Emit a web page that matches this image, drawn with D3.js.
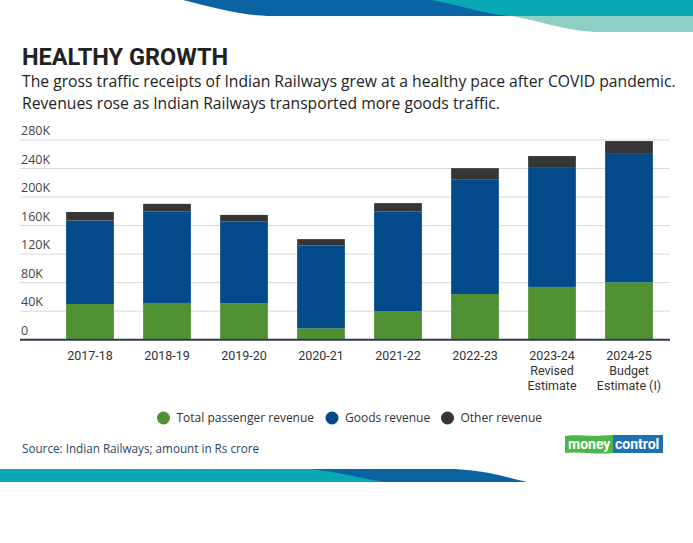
<!DOCTYPE html>
<html>
<head>
<meta charset="utf-8">
<script src="https://cdn.jsdelivr.net/npm/d3@7"></script>
<style>
  body { margin: 0; background: #fff; }
</style>
</head>
<body>
<svg id="chart"></svg>
<script>
// values in Rs '000 crore
const years = ["2017-18", "2018-19", "2019-20", "2020-21", "2021-22", "2022-23", "2023-24", "2024-25"];
const yearNotes = [[], [], [], [], [], [], ["Revised", "Estimate"], ["Budget", "Estimate (I)"]];
const passenger = [50, 51.5, 51, 16, 40, 64, 74, 80.5];
const goods = [117, 128, 114.5, 116, 140, 161, 168, 180];
const other = [12, 11, 9.5, 9, 11.5, 15.5, 15.5, 18];
const yTicks = [0, 40, 80, 120, 160, 200, 240, 280];
const keys = ["passenger", "goods", "other"];
const keyNames = ["Total passenger revenue", "Goods revenue", "Other revenue"];

const W = 693, H = 543;
const svg = d3.select("#chart").attr("width", W).attr("height", H)
    .attr("font-family", "'Open Sans', sans-serif");

const data = years.map((y, i) => ({ year: y, passenger: passenger[i], goods: goods[i], other: other[i] }));

// decorative bands top and bottom
svg.append("path").attr("fill", "#0a64a3")
    .attr("d", "M183,0 C215,8 240,15 268,16 L520,16 L520,0 Z");
svg.append("path").attr("fill", "#8ccfc4")
    .attr("d", "M500,14 C540,20 560,30 595,32 L693,32 L693,14 Z");
svg.append("path").attr("fill", "#0aa8b4")
    .attr("d", "M432,0 C470,8 490,15 510,16 L693,16 L693,0 Z");

svg.append("path").attr("fill", "#0a64a3")
    .attr("d", "M0,469 L455,469 C490,471 505,477 527,482 L0,482 Z");
svg.append("path").attr("fill", "#0aa8b4")
    .attr("d", "M0,469 L310,469 C340,472 360,478 384,482 L0,482 Z");

// title
svg.append("text").attr("x", 22).attr("y", 65)
    .attr("font-family", "Roboto").attr("font-weight", "bold")
    .attr("font-size", 23.5).attr("fill", "#222")
    .text("HEALTHY GROWTH");
svg.append("text").attr("x", 22).attr("y", 87)
    .attr("font-size", 15.7).attr("fill", "#222")
    .text("The gross traffic receipts of Indian Railways grew at a healthy pace after COVID pandemic.");
svg.append("text").attr("x", 22).attr("y", 109)
    .attr("font-size", 15.7).attr("fill", "#222")
    .text("Revenues rose as Indian Railways transported more goods traffic.");

// scales
const x = d3.scaleBand()
    .domain(years)
    .range([51.5, 667.5])
    .paddingInner(0.38)
    .paddingOuter(0.19);

const y = d3.scaleLinear()
    .domain([0, 280])
    .range([339.7, 140]);

const color = d3.scaleOrdinal()
    .domain(keys)
    .range(["#4f9032", "#034a8b", "#363636"]);

// grid + y labels
const grid = svg.append("g");
grid.selectAll("line")
    .data(yTicks.filter(d => d > 0))
    .join("line")
    .attr("x1", 20).attr("x2", 670)
    .attr("y1", d => y(d)).attr("y2", d => y(d))
    .attr("stroke", "#d9d9d9").attr("stroke-width", 1);
grid.selectAll("text")
    .data(yTicks)
    .join("text")
    .attr("x", 21)
    .attr("y", d => y(d) - 5)
    .attr("font-size", 12.5).attr("fill", "#444")
    .text(d => d === 0 ? "0" : d + "K");

// bars
const stack = d3.stack().keys(keys);
svg.append("g")
    .selectAll("g")
    .data(stack(data))
    .join("g")
    .attr("fill", d => color(d.key))
    .selectAll("rect")
    .data(d => d)
    .join("rect")
    .attr("x", d => x(d.data.year))
    .attr("width", x.bandwidth())
    .attr("y", d => y(d[1]))
    .attr("height", d => y(d[0]) - y(d[1]));

// x axis
const xAxis = svg.append("g")
    .attr("transform", `translate(0,${y(0)})`)
    .call(d3.axisBottom(x).tickSize(0).tickPadding(11))
    .attr("font-family", "Roboto").attr("font-size", 12.5);
xAxis.select(".domain").remove();
xAxis.selectAll("text").attr("fill", "#333");
xAxis.selectAll(".tick").each(function(d, i) {
    const tick = d3.select(this);
    yearNotes[i].forEach((line, j) => {
        tick.append("text")
            .attr("y", 11 + 15 * (j + 1))
            .attr("dy", "0.71em")
            .attr("fill", "#333")
            .text(line);
    });
});
svg.append("line")
    .attr("x1", 20).attr("x2", 670)
    .attr("y1", y(0)).attr("y2", y(0))
    .attr("stroke", "#2f3a4c").attr("stroke-width", 2);

// legend
const legendX = [163.5, 332, 447.5];
const legend = svg.append("g")
    .selectAll("g")
    .data(keys)
    .join("g")
    .attr("transform", (d, i) => `translate(${legendX[i]},418)`);
legend.append("circle").attr("r", 6.5).attr("fill", d => color(d));
legend.append("text")
    .attr("x", 13).attr("dy", "0.35em")
    .attr("font-size", 12).attr("fill", "#333")
    .text((d, i) => keyNames[i]);

// source
svg.append("text").attr("x", 22).attr("y", 453)
    .attr("font-size", 11.7).attr("fill", "#27466a")
    .text("Source: Indian Railways; amount in Rs crore");

// logo
const logo = svg.append("g").attr("transform", "translate(565,435)")
    .attr("font-family", "Roboto").attr("font-weight", "bold").attr("font-size", 14).attr("fill", "#fff");
logo.append("path").attr("fill", "#4cb748")
    .attr("d", "M0,1 C10,-1 25,2 48,0 L48,18 C30,20 15,16 0,18 Z");
logo.append("rect").attr("x", 48).attr("y", 0).attr("width", 50).attr("height", 18).attr("fill", "#1f6fb2");
logo.append("text").attr("x", 3).attr("y", 14).text("money");
logo.append("text").attr("x", 50).attr("y", 14).text("control");
</script>
</body>
</html>
